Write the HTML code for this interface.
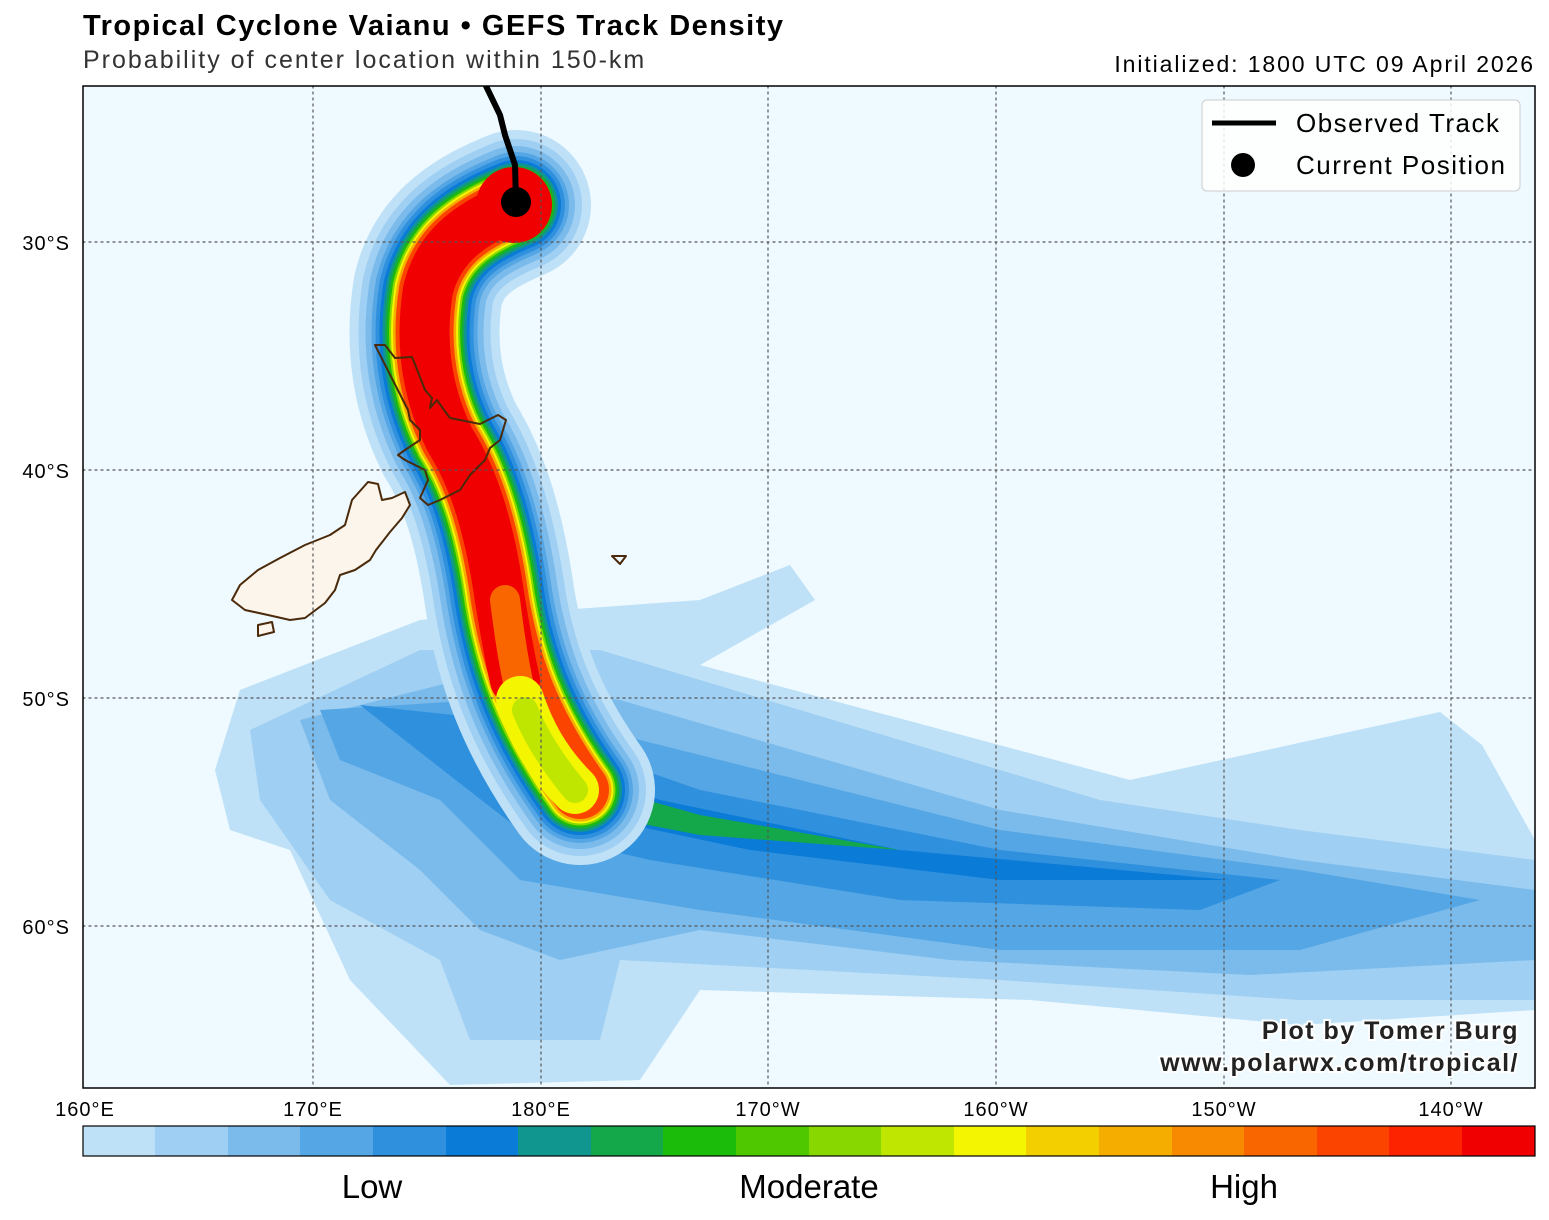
<!DOCTYPE html>
<html><head><meta charset="utf-8"><style>
body{margin:0;background:#fff;width:1549px;height:1220px;overflow:hidden;font-family:"Liberation Sans",sans-serif}
.t{position:absolute;white-space:nowrap}
</style></head><body>
<div class="t" style="left:83px;top:10px;font-size:29px;font-weight:bold;color:#000;letter-spacing:1.5px">Tropical Cyclone Vaianu • GEFS Track Density</div>
<div class="t" style="left:83px;top:46px;font-size:25px;color:#333;letter-spacing:2px">Probability of center location within 150-km</div>
<div class="t" style="right:14px;top:51px;font-size:23px;color:#000;letter-spacing:1.9px">Initialized: 1800 UTC 09 April 2026</div>
<svg width="1549" height="1220" style="position:absolute;left:0;top:0">
<defs><clipPath id="c"><rect x="83" y="86" width="1452" height="1002"/></clipPath></defs>
<rect x="83" y="86" width="1452" height="1002" fill="#eefaff"/>
<g clip-path="url(#c)" stroke-linecap="round" stroke-linejoin="round" fill="none">
<path d="M215,770 L240,690 L420,620 L700,600 L790,565 L815,600 L700,665 L1130,780 L1440,712 L1482,745 L1535,840 L1535,1010 L1300,1025 L1030,1000 L700,990 L640,1080 L450,1085 L350,980 L290,850 L230,830 Z" fill="#bfe1f7"/>
<path d="M250,730 L420,650 L600,650 L1100,800 L1300,830 L1535,860 L1535,1000 L1300,1000 L1000,980 L620,960 L600,1040 L470,1040 L440,960 L330,900 L260,800 Z" fill="#9fcff2"/>
<path d="M300,720 L460,680 L620,700 L1000,810 L1300,860 L1535,890 L1535,960 L1250,975 L950,960 L700,930 L560,960 L480,930 L420,870 L330,800 Z" fill="#7bbbec"/>
<path d="M320,710 L480,700 L640,740 L1000,830 L1300,870 L1480,900 L1300,950 L1000,950 L700,910 L520,880 L440,800 L340,760 Z" fill="#55a6e4"/>
<path d="M360,705 L500,720 L700,790 L1000,850 L1280,880 L1200,910 L900,900 L650,860 L520,830 L430,760 Z" fill="#2f90de"/>
<path d="M470,740 L660,800 L900,850 L1230,880 L1000,880 L750,850 L560,810 Z" fill="#0a7bd6"/>
<path d="M540,770 L700,815 L900,850 L700,835 L570,810 Z" fill="#14a84a"/>
<path id="p" d="M516,205 C480,220 440,240 428,290 C420,340 425,390 450,440 C475,480 490,530 500,600 C510,660 530,720 580,790"/>
<use href="#p" stroke="#bfe1f7" stroke-width="150"/>
<use href="#p" stroke="#9fcff2" stroke-width="132"/>
<use href="#p" stroke="#7bbbec" stroke-width="118"/>
<use href="#p" stroke="#55a6e4" stroke-width="106"/>
<use href="#p" stroke="#2f90de" stroke-width="98"/>
<use href="#p" stroke="#0a7bd6" stroke-width="90"/>
<use href="#p" stroke="#10968f" stroke-width="84"/>
<use href="#p" stroke="#14a84a" stroke-width="79"/>
<use href="#p" stroke="#1cbc0a" stroke-width="75"/>
<use href="#p" stroke="#88d800" stroke-width="71"/>
<use href="#p" stroke="#f4f500" stroke-width="67"/>
<use href="#p" stroke="#f5ad00" stroke-width="63"/>
<use href="#p" stroke="#fb4400" stroke-width="58"/>
<path d="M516,205 C480,220 440,240 428,290 C420,340 425,390 450,440 C475,480 490,530 500,600 C505,630 510,660 515,680" stroke="#f00000" stroke-width="50"/>
<path d="M505,600 C510,640 515,670 520,690" stroke="#f96600" stroke-width="30"/>
<path d="M520,700 C530,730 545,760 575,790" stroke="#f4f500" stroke-width="48"/>
<path d="M525,710 C535,735 550,760 575,790" stroke="#bfe600" stroke-width="26"/>
<circle cx="514" cy="205" r="38" fill="#f00000"/>
<path d="M375,345 L385,345 L395,358 L412,357 L418,372 L425,390 L432,398 L430,408 L437,400 L444,410 L450,418 L480,424 L498,415 L506,420 L500,440 L490,448 L485,460 L470,475 L460,490 L440,500 L428,505 L420,498 L428,480 L425,470 L405,460 L398,455 L405,450 L420,440 L420,430 L410,420 L408,410 Z" fill="none" stroke="#4a2a0a" stroke-width="2"/>
<path d="M368,482 L378,484 L382,500 L392,498 L405,492 L410,505 L402,518 L390,532 L376,550 L370,560 L355,570 L340,575 L335,590 L325,603 L305,618 L290,620 L268,615 L245,610 L232,600 L240,585 L258,570 L280,558 L305,545 L330,535 L345,525 L352,500 Z" fill="#fbf5ec" stroke="#4a2a0a" stroke-width="2"/>
<path d="M258,625 L272,622 L274,632 L258,636 Z" fill="#fbf5ec" stroke="#4a2a0a" stroke-width="2"/>
<path d="M612,556 L626,556 L620,564 Z" fill="none" stroke="#4a2a0a" stroke-width="2"/>
<g stroke="#555" stroke-width="1.2" stroke-dasharray="2,4">
<line x1="313" y1="86" x2="313" y2="1088"/><line x1="541" y1="86" x2="541" y2="1088"/><line x1="768" y1="86" x2="768" y2="1088"/><line x1="996" y1="86" x2="996" y2="1088"/><line x1="1224" y1="86" x2="1224" y2="1088"/><line x1="1451" y1="86" x2="1451" y2="1088"/>
<line x1="83" y1="242" x2="1535" y2="242"/><line x1="83" y1="470" x2="1535" y2="470"/><line x1="83" y1="698" x2="1535" y2="698"/><line x1="83" y1="926" x2="1535" y2="926"/>
</g>
<path d="M486,86 L500,115 L505,135 L515,165 L516,200" stroke="#000" stroke-width="6"/>
<circle cx="516" cy="202" r="15" fill="#000"/>
</g>
<rect x="83" y="86" width="1452" height="1002" fill="none" stroke="#000" stroke-width="1.5"/>
<rect x="1202" y="100" width="318" height="91" rx="5" fill="#fff" fill-opacity="0.85" stroke="#ccc"/>
<line x1="1212" y1="123" x2="1276" y2="123" stroke="#000" stroke-width="5"/>
<circle cx="1243" cy="165" r="12" fill="#000"/>
<g font-size="26" font-family="Liberation Sans,sans-serif" letter-spacing="1.5">
<text x="1296" y="132">Observed Track</text>
<text x="1296" y="174">Current Position</text></g>
<g font-family="Liberation Sans,sans-serif" font-weight="bold" font-size="25" fill="#222" text-anchor="end" stroke="#fff" stroke-width="4" paint-order="stroke" letter-spacing="1.5">
<text x="1519" y="1039">Plot by Tomer Burg</text><text x="1519" y="1071">www.polarwx.com/tropical/</text></g>
<g font-family="Liberation Sans,sans-serif" font-size="20" fill="#000" letter-spacing="1">
<text x="70" y="250" text-anchor="end">30°S</text><text x="70" y="478" text-anchor="end">40°S</text><text x="70" y="706" text-anchor="end">50°S</text><text x="70" y="934" text-anchor="end">60°S</text>
<g text-anchor="middle"><text x="85" y="1116">160°E</text><text x="313" y="1116">170°E</text><text x="541" y="1116">180°E</text><text x="768" y="1116">170°W</text><text x="996" y="1116">160°W</text><text x="1224" y="1116">150°W</text><text x="1451" y="1116">140°W</text></g>
</g>
<g>
<rect x="83" y="1126" width="73" height="30" fill="#bfe1f7"/><rect x="155" y="1126" width="73" height="30" fill="#9fcff2"/><rect x="228" y="1126" width="73" height="30" fill="#7bbbec"/><rect x="300" y="1126" width="73" height="30" fill="#55a6e4"/><rect x="373" y="1126" width="73" height="30" fill="#2f90de"/><rect x="446" y="1126" width="73" height="30" fill="#0a7bd6"/><rect x="518" y="1126" width="73" height="30" fill="#10968f"/><rect x="591" y="1126" width="73" height="30" fill="#14a84a"/><rect x="663" y="1126" width="73" height="30" fill="#1cbc0a"/><rect x="736" y="1126" width="73" height="30" fill="#50c800"/><rect x="809" y="1126" width="73" height="30" fill="#88d800"/><rect x="881" y="1126" width="73" height="30" fill="#bfe600"/><rect x="954" y="1126" width="73" height="30" fill="#f4f500"/><rect x="1026" y="1126" width="73" height="30" fill="#f4cf00"/><rect x="1099" y="1126" width="73" height="30" fill="#f5ad00"/><rect x="1172" y="1126" width="73" height="30" fill="#f78a00"/><rect x="1244" y="1126" width="73" height="30" fill="#f96600"/><rect x="1317" y="1126" width="73" height="30" fill="#fb4400"/><rect x="1389" y="1126" width="73" height="30" fill="#fd2200"/><rect x="1462" y="1126" width="73" height="30" fill="#f00000"/>
<rect x="83" y="1126" width="1452" height="30" fill="none" stroke="#000" stroke-width="1.2"/>
</g>
<g font-family="Liberation Sans,sans-serif" font-size="33" text-anchor="middle"><text x="372" y="1198">Low</text><text x="809" y="1198">Moderate</text><text x="1244" y="1198">High</text></g>
</svg>
</body></html>
